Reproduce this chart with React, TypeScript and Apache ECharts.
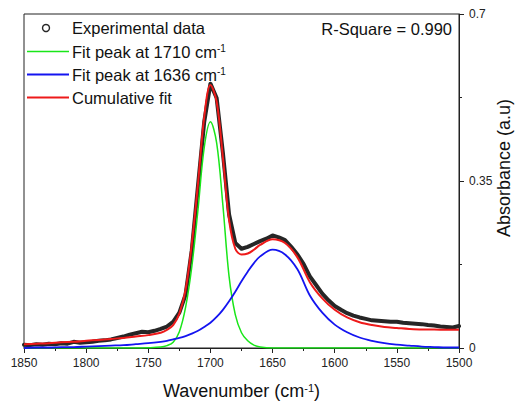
import React, { useEffect, useRef } from 'react';
import * as echarts from 'echarts';

// Fit curves sampled in wavenumber (cm-1)
const fitWavenumbers = [
  1850, 1840, 1830, 1820, 1810, 1800, 1790, 1780, 1770, 1760, 1750, 1740,
  1735, 1730, 1725, 1720, 1715, 1710, 1705, 1700, 1695, 1690, 1685, 1680, 1675, 1670, 1665, 1660,
  1650, 1640, 1630, 1620, 1610, 1600, 1590, 1580, 1570, 1560, 1550, 1540, 1530, 1520, 1510, 1500,
];

const peak1710 = [
  0, 0, 0, 0, 0, 0, 0, 0, 0, 0, 0.0005, 0.002,
  0.005, 0.012, 0.034, 0.085, 0.17, 0.29, 0.42, 0.474, 0.43, 0.3, 0.15, 0.07, 0.032, 0.015, 0.006, 0.002,
  0, 0, 0, 0, 0, 0, 0, 0, 0, 0, 0, 0, 0, 0, 0, 0,
];

const peak1636 = [
  0.0, 0.001, 0.001, 0.002, 0.002, 0.003, 0.004, 0.005, 0.006, 0.008, 0.01, 0.013,
  0.015, 0.018, 0.021, 0.025, 0.03, 0.036, 0.044, 0.053, 0.065, 0.08, 0.098, 0.118, 0.14, 0.16, 0.178, 0.192,
  0.206, 0.196, 0.165, 0.11, 0.074, 0.049, 0.033, 0.022, 0.015, 0.01, 0.007, 0.005, 0.003, 0.002, 0.001, 0.001,
];

const cumulativeFit = [
  0.008, 0.009, 0.01, 0.012, 0.013, 0.015, 0.017, 0.019, 0.021, 0.024, 0.027, 0.032,
  0.038, 0.048, 0.072, 0.122, 0.218, 0.345, 0.484, 0.551, 0.516, 0.4, 0.268, 0.208, 0.196, 0.198, 0.206, 0.216,
  0.228, 0.22, 0.19, 0.138, 0.104, 0.08, 0.064, 0.054, 0.048, 0.044, 0.042, 0.04, 0.039, 0.039, 0.038, 0.038,
];

// Experimental spectrum
const expWavenumbers = [
  1850, 1845, 1840, 1835, 1830, 1825, 1820, 1815, 1810, 1805, 1800, 1795, 1790, 1785, 1780, 1775,
  1770, 1765, 1760, 1755, 1750, 1745, 1740, 1735, 1730, 1725, 1720, 1715, 1710, 1705, 1700, 1695,
  1690, 1685, 1680, 1675, 1670, 1665, 1660, 1655, 1650, 1645, 1640, 1635, 1630, 1625, 1620, 1615,
  1610, 1605, 1600, 1595, 1590, 1585, 1580, 1575, 1570, 1565, 1560, 1555, 1550, 1545, 1540, 1535,
  1530, 1525, 1520, 1515, 1510, 1505, 1500,
];

const expAbsorbance = [
  0.007, 0.006, 0.008, 0.007, 0.009, 0.008, 0.01, 0.009, 0.013, 0.011, 0.012, 0.013, 0.015, 0.016, 0.018, 0.021,
  0.024, 0.028, 0.031, 0.034, 0.033, 0.036, 0.04, 0.045, 0.055, 0.074, 0.112, 0.205, 0.34, 0.474, 0.554, 0.524,
  0.41, 0.28, 0.22, 0.208, 0.212, 0.218, 0.224, 0.229, 0.236, 0.232, 0.226, 0.212, 0.196, 0.176, 0.15, 0.132,
  0.114, 0.1, 0.088, 0.08, 0.073, 0.068, 0.064, 0.061, 0.058, 0.057, 0.056, 0.055, 0.055, 0.053, 0.052, 0.051,
  0.05, 0.048, 0.047, 0.045, 0.044, 0.043, 0.046,
];

const xRange = [1500, 1850];
const xInterval = 50;
const yRange = [0, 0.7];
const yInterval = 0.35;

const legendLabels = ['Experimental data', 'Fit peak at 1710 cm', 'Fit peak at 1636 cm', 'Cumulative fit'];
const rSquareText = 'R-Square = 0.990';

const FONT = '"Liberation Sans", Arial, Helvetica, sans-serif';
const GREEN = '#19e619';
const BLUE = '#1414f0';
const RED = '#ee1a1a';
const BLACK = '#262626';
const AXIS = '#222';

export default function App() {
  const ref = useRef<HTMLDivElement>(null);

  useEffect(() => {
    if (!ref.current) return;
    const chart = echarts.init(ref.current, undefined, { renderer: 'svg' });

    const pair = (xs: number[], ys: number[]) => xs.map((x, i) => [x, ys[i]]);

    const legendFont = 16.5;
    const rows = [28, 51.5, 74.5, 97.5];
    const supRich = {
      a: { fontSize: legendFont, fontFamily: FONT, fill: '#111' },
      s: { fontSize: 10, fontFamily: FONT, fill: '#111', verticalAlign: 'top' },
    };

    const option: any = {
      animation: false,
      backgroundColor: '#ffffff',
      grid: {
        left: 24, right: 61, top: 14, bottom: 57,
        outerBoundsMode: 'none',
        containLabel: false,
        show: true, borderColor: AXIS, borderWidth: 1, backgroundColor: 'transparent',
      },
      xAxis: {
        type: 'value',
        min: xRange[0], max: xRange[1], interval: xInterval,
        inverse: true,
        position: 'bottom',
        name: '{a|Wavenumber (cm}{s|-1}{a|)}',
        nameLocation: 'middle',
        nameGap: 34,
        nameTextStyle: {
          rich: {
            a: { fontSize: 18, fontFamily: FONT, color: '#111' },
            s: { fontSize: 11, fontFamily: FONT, color: '#111', verticalAlign: 'top' },
          },
        },
        axisLine: { show: true, onZero: false, lineStyle: { color: AXIS, width: 1 } },
        axisTick: { show: true, length: 5, lineStyle: { color: AXIS } },
        minorTick: { show: true, splitNumber: 2, length: 3, lineStyle: { color: AXIS } },
        splitLine: { show: false },
        minorSplitLine: { show: false },
        axisLabel: { fontSize: 12, fontFamily: FONT, color: '#222', margin: 9, formatter: (v: number) => String(v) },
      },
      yAxis: {
        type: 'value',
        position: 'right',
        min: yRange[0], max: yRange[1], interval: yInterval,
        name: 'Absorbance (a.u)',
        nameLocation: 'middle',
        nameGap: 36,
        nameMoveOverlap: false,
        nameTextStyle: { fontSize: 18, fontFamily: FONT, color: '#111', padding: [0, 0, 0, 26] },
        axisLine: { show: true, onZero: false, lineStyle: { color: AXIS, width: 1 } },
        axisTick: { show: true, length: 5, lineStyle: { color: AXIS } },
        minorTick: { show: true, splitNumber: 2, length: 3, lineStyle: { color: AXIS } },
        splitLine: { show: false },
        minorSplitLine: { show: false },
        axisLabel: { fontSize: 12, fontFamily: FONT, color: '#222', margin: 10, formatter: (v: number) => String(v) },
      },
      series: [
        {
          name: legendLabels[0],
          type: 'line',
          data: pair(expWavenumbers, expAbsorbance),
          showSymbol: false,
          symbol: 'none',
          lineStyle: { color: BLACK, width: 4, join: 'round', cap: 'round' },
          z: 2,
        },
        {
          name: legendLabels[1],
          type: 'line',
          data: pair(fitWavenumbers, peak1710),
          smooth: 0.35,
          showSymbol: false,
          symbol: 'none',
          lineStyle: { color: GREEN, width: 1.5 },
          z: 3,
        },
        {
          name: legendLabels[2],
          type: 'line',
          data: pair(fitWavenumbers, peak1636),
          smooth: 0.35,
          showSymbol: false,
          symbol: 'none',
          lineStyle: { color: BLUE, width: 1.8 },
          z: 4,
        },
        {
          name: legendLabels[3],
          type: 'line',
          data: pair(fitWavenumbers, cumulativeFit),
          smooth: 0.35,
          showSymbol: false,
          symbol: 'none',
          lineStyle: { color: RED, width: 2 },
          z: 5,
        },
      ],
      graphic: [
        { type: 'circle', shape: { cx: 46, cy: rows[0], r: 3.5 }, style: { fill: 'none', stroke: BLACK, lineWidth: 1.4 }, z: 10 },
        { type: 'text', x: 72, y: rows[0], style: { text: legendLabels[0], fontSize: legendFont, fontFamily: FONT, fill: '#111', verticalAlign: 'middle' }, z: 10 },
        { type: 'line', shape: { x1: 27, y1: rows[1], x2: 69, y2: rows[1] }, style: { stroke: GREEN, lineWidth: 1.5 }, z: 10 },
        { type: 'text', x: 72, y: rows[1], style: { text: `{a|${legendLabels[1]}}{s|-1}`, rich: supRich, fontSize: legendFont, fontFamily: FONT, fill: '#111', verticalAlign: 'middle' }, z: 10 },
        { type: 'line', shape: { x1: 27, y1: rows[2], x2: 69, y2: rows[2] }, style: { stroke: BLUE, lineWidth: 1.8 }, z: 10 },
        { type: 'text', x: 72, y: rows[2], style: { text: `{a|${legendLabels[2]}}{s|-1}`, rich: supRich, fontSize: legendFont, fontFamily: FONT, fill: '#111', verticalAlign: 'middle' }, z: 10 },
        { type: 'line', shape: { x1: 27, y1: rows[3], x2: 69, y2: rows[3] }, style: { stroke: RED, lineWidth: 2 }, z: 10 },
        { type: 'text', x: 72, y: rows[3], style: { text: legendLabels[3], fontSize: legendFont, fontFamily: FONT, fill: '#111', verticalAlign: 'middle' }, z: 10 },
        { type: 'text', x: 452, y: 29, style: { text: rSquareText, fontSize: legendFont, fontFamily: FONT, fill: '#111', align: 'right', verticalAlign: 'middle' }, z: 10 },
      ],
    };

    chart.setOption(option);
    return () => chart.dispose();
  }, []);

  return <div ref={ref} style={{ position: 'fixed', left: 0, top: 0, width: 520, height: 405, background: '#fff' }} />;
}
